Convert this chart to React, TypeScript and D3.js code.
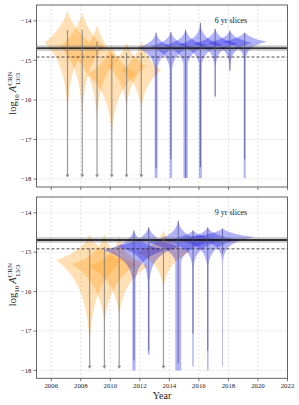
import React from "react";
import * as d3 from "d3";

// ---------- data ----------
const xTicks = [2006, 2008, 2010, 2012, 2014, 2016, 2018, 2020, 2022];
const yTicks = [-14, -15, -16, -17, -18];
const refSolid = -14.69;
const refDashed = -14.915;
const refBand = 0.07;

// 6 yr slices
const topYears = [2007.1, 2008.1, 2009.1, 2010.1, 2011.1, 2012.1, 2013.1, 2014.1, 2015.1, 2016.1, 2017.1, 2018.1, 2019.1];
const topLimit = [1, 1, 1, 1, 1, 1, 0, 0, 0, 0, 0, 0, 0];
const topTip = [-13.75, -13.8, -14.1, -14.6, -14.55, -14.5, -14.3, -14.28, -14.22, -14.05, -14.2, -14.25, -14.3];
const topMode = [-14.55, -14.65, -14.95, -15.35, -15.15, -15.25, -14.68, -14.65, -14.62, -14.6, -14.58, -14.56, -14.53];
const topHalfWidth = [1.55, 1.5, 1.45, 1.65, 1.3, 1.35, 1.3, 1.4, 1.45, 1.5, 1.5, 1.5, 1.5];
const topRise = [0.6, 0.6, 0.55, 0.45, 0.4, 0.45, 0.15, 0.15, 0.15, 0.16, 0.15, 0.15, 0.15];
const topFall = [0.6, 0.6, 0.55, 0.55, 0.45, 0.45, 0.2, 0.2, 0.2, 0.18, 0.15, 0.15, 0.135];
const topBottom = [-16.3, -16.4, -16.5, -16.9, -16.2, -16.2, -17.97, -17.97, -17.97, -17.97, -15.95, -15.3, -17.97];
const topTail = [0, 0, 0, 0, 0, 0, 0.1, 0.08, 0.15, 0.1, 0.03, 0.03, 0.07];
const topLineTop = [-14.23, -14.23, -14.53, -14.86, -14.8, -14.8, -14.3, -14.28, -14.22, -14.05, -14.2, -14.25, -14.3];
const topLineBottom = [-17.96, -17.96, -17.96, -17.96, -17.96, -17.96, -17.73, -17.5, -17.97, -17.7, -15.9, -15.24, -17.5];

// 9 yr slices
const botYears = [2008.6, 2009.6, 2010.6, 2011.6, 2012.6, 2013.6, 2014.6, 2015.6, 2016.6, 2017.6];
const botLimit = [1, 1, 1, 0, 0, 1, 0, 0, 0, 0];
const botTip = [-14.55, -14.53, -14.58, -14.45, -14.37, -14.45, -14.2, -14.45, -14.37, -14.4];
const botMode = [-15.2, -15.3, -15.35, -14.95, -14.85, -15.0, -14.75, -14.7, -14.68, -14.62];
const botHalfWidth = [2.25, 2.2, 2.0, 2.1, 2.1, 1.8, 2.1, 2.1, 2.1, 2.2];
const botRise = [0.35, 0.3, 0.3, 0.2, 0.2, 0.25, 0.18, 0.125, 0.125, 0.125];
const botFall = [0.7, 0.6, 0.5, 0.25, 0.25, 0.35, 0.2, 0.18, 0.18, 0.15];
const botBottom = [-17.3, -16.8, -16.6, -18.0, -17.6, -15.9, -18.0, -17.9, -18.0, -17.9];
const botTail = [0, 0, 0, 0.11, 0.06, 0, 0.2, 0.05, 0.05, 0.03];
const botLineTop = [-14.91, -14.87, -14.87, -14.45, -14.37, -14.62, -14.2, -14.45, -14.37, -14.4];
const botLineBottom = [-17.96, -17.96, -17.96, -17.75, -17.5, -17.96, -17.82, -17.07, -17.5, -15.03];

// ---------- layout ----------
const W = 299;
const H = 405;
const LEFT = 36.5;
const RIGHT = 287.5;
const FONT = "'Liberation Serif', 'DejaVu Serif', serif";
const ORANGE = "#FF9F1A";
const BLUE = "#0000E0";

const xScale = d3.scaleLinear().domain([2005, 2022]).range([LEFT, RIGHT]);

type Series = {
  years: number[]; limit: number[]; tip: number[]; mode: number[]; hw: number[];
  rise: number[]; fall: number[]; bottom: number[]; tail: number[];
  lineTop: number[]; lineBottom: number[];
};

const topSeries: Series = {
  years: topYears, limit: topLimit, tip: topTip, mode: topMode, hw: topHalfWidth,
  rise: topRise, fall: topFall, bottom: topBottom, tail: topTail,
  lineTop: topLineTop, lineBottom: topLineBottom,
};
const botSeries: Series = {
  years: botYears, limit: botLimit, tip: botTip, mode: botMode, hw: botHalfWidth,
  rise: botRise, fall: botFall, bottom: botBottom, tail: botTail,
  lineTop: botLineTop, lineBottom: botLineBottom,
};

function halfWidthAt(s: Series, i: number, v: number): number {
  const m = s.mode[i];
  const w = s.hw[i];
  if (v >= m) {
    const d = v - m;
    const D = s.tip[i] - m;
    const a = s.rise[i];
    const e = Math.exp(-D / a);
    return Math.max(0, (w * (Math.exp(-d / a) - e)) / (1 - e));
  }
  const d = m - v;
  const D = m - s.bottom[i];
  const b = s.fall[i];
  if (s.tail[i] > 0) return Math.max(w * Math.exp(-d / b), s.tail[i]);
  const e = Math.exp(-D / b);
  return Math.max(0, (w * (Math.exp(-d / b) - e)) / (1 - e));
}

function violinPath(s: Series, i: number, y: d3.ScaleLinear<number, number>): string {
  const N = 160;
  const right: [number, number][] = [];
  const left: [number, number][] = [];
  for (let k = 0; k <= N; k++) {
    const v = s.tip[i] + ((s.bottom[i] - s.tip[i]) * k) / N;
    const h = halfWidthAt(s, i, v);
    right.push([xScale(s.years[i] + h), y(v)]);
    left.push([xScale(s.years[i] - h), y(v)]);
  }
  const pts = right.concat(left.reverse());
  return (d3.line()(pts) || "") + "Z";
}

function Panel({ s, top, bottom, label, showXLabels }: { s: Series; top: number; bottom: number; label: string; showXLabels: boolean }) {
  const y = d3.scaleLinear().domain([-18.2, -13.6]).range([bottom, top]);
  const idx = s.years.map((_, i) => i);
  const order = idx.filter((i) => s.limit[i] === 1).concat(idx.filter((i) => s.limit[i] === 0));
  const clipId = "clip" + Math.round(top);
  return (
    <g>
      <defs>
        <clipPath id={clipId}>
          <rect x={LEFT} y={top} width={RIGHT - LEFT} height={bottom - top} />
        </clipPath>
      </defs>
      {/* grid */}
      {xTicks.map((t) => (
        <line key={"gx" + t} x1={xScale(t)} x2={xScale(t)} y1={top} y2={bottom} stroke="#cfcfcf" strokeWidth={0.6} strokeDasharray="2,2" />
      ))}
      {yTicks.map((t) => (
        <line key={"gy" + t} x1={LEFT} x2={RIGHT} y1={y(t)} y2={y(t)} stroke="#cfcfcf" strokeWidth={0.6} strokeDasharray="2,2" />
      ))}
      <g clipPath={`url(#${clipId})`}>
        {order.map((i) => (
          <path key={"v" + i} d={violinPath(s, i, y)} fill={s.limit[i] ? ORANGE : BLUE} fillOpacity={s.limit[i] ? 0.33 : 0.3} stroke="none" />
        ))}
        {/* reference lines */}
        <rect x={LEFT} width={RIGHT - LEFT} y={y(refSolid + refBand)} height={y(refSolid - refBand) - y(refSolid + refBand)} fill="#777" fillOpacity={0.4} />
        <line x1={LEFT} x2={RIGHT} y1={y(refSolid)} y2={y(refSolid)} stroke="#000" strokeWidth={1.4} />
        <line x1={LEFT} x2={RIGHT} y1={y(refDashed)} y2={y(refDashed)} stroke="#000" strokeWidth={0.7} strokeDasharray="3,2" />
        {/* extent lines / arrows */}
        {order.map((i) => {
          const xc = xScale(s.years[i]);
          const y1 = y(s.lineTop[i]);
          const y2 = y(s.lineBottom[i]);
          if (s.limit[i]) {
            return (
              <g key={"l" + i}>
                <line x1={xc} x2={xc} y1={y1} y2={y2 - 2.5} stroke="#7a7a7a" strokeOpacity={0.75} strokeWidth={1.2} />
                <path d={`M${xc - 2},${y2 - 3}L${xc + 2},${y2 - 3}L${xc},${y2}Z`} fill="#7a7a7a" fillOpacity={0.85} />
              </g>
            );
          }
          return <line key={"l" + i} x1={xc} x2={xc} y1={y1} y2={y2} stroke="#4a4a8c" strokeOpacity={0.7} strokeWidth={1} />;
        })}
      </g>
      {/* frame */}
      <rect x={LEFT} y={top} width={RIGHT - LEFT} height={bottom - top} fill="none" stroke="#555" strokeWidth={0.9} />
      {/* ticks */}
      {xTicks.map((t) => (
        <line key={"tx" + t} x1={xScale(t)} x2={xScale(t)} y1={bottom} y2={bottom + 3} stroke="#555" strokeWidth={0.8} />
      ))}
      {yTicks.map((t) => (
        <g key={"ty" + t}>
          <line x1={LEFT - 3} x2={LEFT} y1={y(t)} y2={y(t)} stroke="#555" strokeWidth={0.8} />
          <text x={LEFT - 5} y={y(t) + 2.3} fontSize={6.8} textAnchor="end" fontFamily={FONT} fill="#222">
            {"\u2212" + Math.abs(t)}
          </text>
        </g>
      ))}
      {showXLabels &&
        xTicks.map((t) => (
          <text key={"lx" + t} x={xScale(t)} y={bottom + 9.5} fontSize={6.8} textAnchor="middle" fontFamily={FONT} fill="#222">
            {t}
          </text>
        ))}
      <text x={231} y={top + 18} fontSize={8} textAnchor="middle" fontFamily={FONT} fill="#222">
        {label}
      </text>
      {/* y label */}
      <g transform={`translate(16, ${(top + bottom) / 2 - 3}) rotate(-90)`}>
        <text x={0} y={0} textAnchor="middle" fontFamily={FONT} fontSize={10.5} fill="#222">
          <tspan>log</tspan>
          <tspan fontSize={7} dy={2.5}>10</tspan>
          <tspan dy={-2.5} dx={2} fontStyle="italic">A</tspan>
          <tspan fontSize={7} dy={-4.5}>CRN</tspan>
          <tspan fontSize={7} dx={-14} dy={8}>13/3</tspan>
        </text>
      </g>
    </g>
  );
}

export default function App() {
  return (
    <svg width={W} height={H} style={{ position: "absolute", left: 0, top: 0, background: "#fff" }}>
      <rect x={0} y={0} width={W} height={H} fill="#fff" />
      <Panel s={topSeries} top={5} bottom={187} label="6 yr slices" showXLabels={false} />
      <Panel s={botSeries} top={197} bottom={378.3} label="9 yr slices" showXLabels={true} />
      <text x={(LEFT + RIGHT) / 2} y={399} fontSize={10} textAnchor="middle" fontFamily={FONT} fill="#222">
        Year
      </text>
    </svg>
  );
}
